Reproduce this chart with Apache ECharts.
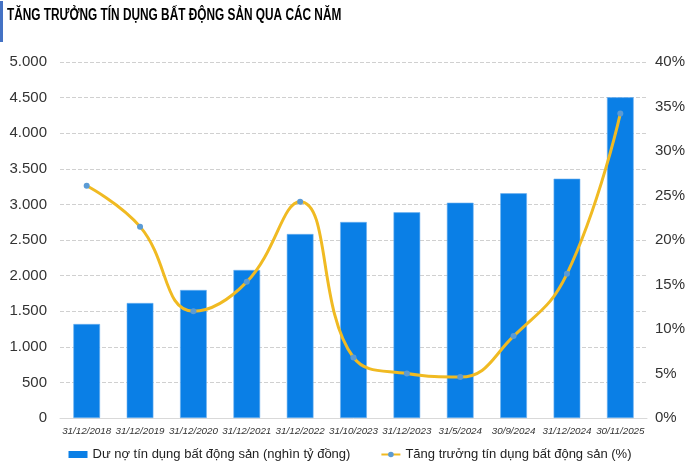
<!DOCTYPE html>
<html>
<head>
<meta charset="utf-8">
<script src="https://cdn.jsdelivr.net/npm/echarts@6/dist/echarts.min.js"></script>
<style>
  html, body { margin: 0; padding: 0; background: #fff; }
  #chart { width: 700px; height: 475px; }
</style>
</head>
<body>
<div id="chart"></div>
<script>
var categories = ['31/12/2018', '31/12/2019', '31/12/2020', '31/12/2021', '31/12/2022',
  '31/10/2023', '31/12/2023', '31/5/2024', '30/9/2024', '31/12/2024', '30/11/2025'];
var duNo = [1320, 1615, 1798, 2079, 2584, 2753, 2889, 3024, 3156, 3361, 4504];
var tangTruong = [26.1, 21.5, 12.0, 15.3, 24.3, 6.8, 5.0, 4.6, 9.2, 16.2, 34.2];

var font = "'Liberation Sans', Arial, sans-serif";

var myChart = echarts.init(document.getElementById('chart'));

var option = {
  animation: false,
  graphic: [{
    type: 'rect',
    left: 0, top: 1,
    shape: { width: 3, height: 41 },
    style: { fill: '#4472C4' }
  }, {
    // tieu de (nen chu hep nhu Arial Narrow)
    type: 'text',
    x: 7, y: 8,
    scaleX: 0.74,
    style: {
      text: 'TĂNG TRƯỞNG TÍN DỤNG BẤT ĐỘNG SẢN QUA CÁC NĂM',
      font: 'bold 16px ' + font,
      fill: '#000'
    }
  }],
  legend: {
    bottom: 9,
    left: 'center',
    itemGap: 30,
    itemWidth: 19,
    itemHeight: 7,
    textStyle: { fontFamily: font, fontSize: 13, color: '#222' },
    data: [
      { name: 'Dư nợ tín dụng bất động sản (nghìn tỷ đồng)', icon: 'rect', itemStyle: { borderWidth: 0 } },
      { name: 'Tăng trưởng tín dụng bất động sản (%)' }
    ]
  },
  grid: { left: 60, right: 53, top: 62, bottom: 57 },
  xAxis: {
    type: 'category',
    data: categories,
    axisTick: { show: false },
    axisLine: { lineStyle: { color: '#d9d9d9' } },
    axisLabel: { fontFamily: font, fontStyle: 'italic', fontSize: 9.8, color: '#333', margin: 8, interval: 0 }
  },
  yAxis: [{
    type: 'value',
    min: 0, max: 5000, interval: 500,
    axisLabel: {
      fontFamily: font, fontSize: 15, color: '#333', margin: 13,
      formatter: function (v) { return String(v).replace(/\B(?=(\d{3})+(?!\d))/g, '.'); }
    },
    splitLine: { lineStyle: { color: '#d0d0d0', type: 'dashed' } }
  }, {
    type: 'value',
    min: 0, max: 40, interval: 5,
    axisLabel: { fontFamily: font, fontSize: 15, color: '#333', margin: 8, formatter: '{value}%' },
    splitLine: { show: false }
  }],
  series: [{
    name: 'Dư nợ tín dụng bất động sản (nghìn tỷ đồng)',
    type: 'bar',
    data: duNo,
    barWidth: '50%',
    itemStyle: { color: '#0A7FE6', borderColor: '#6FB2F0', borderWidth: 0.6 }
  }, {
    name: 'Tăng trưởng tín dụng bất động sản (%)',
    type: 'line',
    yAxisIndex: 1,
    data: tangTruong,
    smooth: 0.45,
    symbol: 'circle',
    symbolSize: 6,
    lineStyle: { color: '#F0BA22', width: 3 },
    itemStyle: { color: '#5B9BD5' }
  }]
};

myChart.setOption(option);
</script>
</body>
</html>
